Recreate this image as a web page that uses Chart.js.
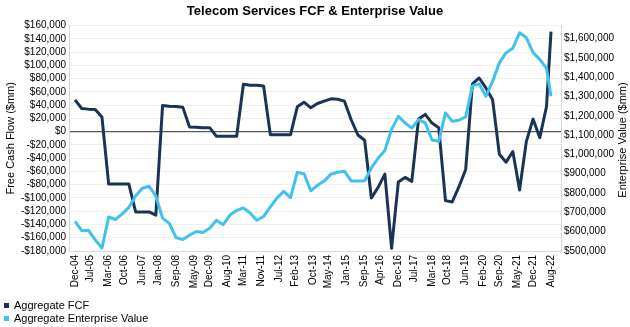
<!DOCTYPE html>
<html>
<head>
<meta charset="utf-8">
<script src="https://cdn.jsdelivr.net/npm/chart.js@4.4.1/dist/chart.umd.min.js"></script>
<style>
    body { margin: 0; background: #fff; font-family: "Liberation Sans", Arial, sans-serif; }
    #wrap { position: relative; width: 630px; height: 327px; }
    #legend { position: absolute; left: 4px; top: 299px; font-size: 11px; color: #000; }
    .item { height: 13px; line-height: 13px; display: flex; align-items: center; }
    .box { width: 5px; height: 5px; margin-right: 5px; }
    #evTitle {
        position: absolute; left: 542px; top: 133px; width: 160px; height: 14px;
        line-height: 14px; font-size: 11px; text-align: center; color: #000;
        transform: rotate(-90deg); transform-origin: 80px 7px; white-space: nowrap;
    }
</style>
</head>
<body>
<div id="wrap">
    <canvas id="chart" width="630" height="327"></canvas>
    <div id="evTitle">Enterprise Value ($mm)</div>
    <div id="legend"></div>
</div>
<script>
// 日付（四半期 + 最終点）
const dates = [
    'Dec-04', 'Mar-05', 'Jun-05', 'Sep-05', 'Dec-05', 'Mar-06', 'Jun-06', 'Sep-06',
    'Dec-06', 'Mar-07', 'Jun-07', 'Sep-07', 'Dec-07', 'Mar-08', 'Jun-08', 'Sep-08',
    'Dec-08', 'Mar-09', 'Jun-09', 'Sep-09', 'Dec-09', 'Mar-10', 'Jun-10', 'Sep-10',
    'Dec-10', 'Mar-11', 'Jun-11', 'Sep-11', 'Dec-11', 'Mar-12', 'Jun-12', 'Sep-12',
    'Dec-12', 'Mar-13', 'Jun-13', 'Sep-13', 'Dec-13', 'Mar-14', 'Jun-14', 'Sep-14',
    'Dec-14', 'Mar-15', 'Jun-15', 'Sep-15', 'Dec-15', 'Mar-16', 'Jun-16', 'Sep-16',
    'Dec-16', 'Mar-17', 'Jun-17', 'Sep-17', 'Dec-17', 'Mar-18', 'Jun-18', 'Sep-18',
    'Dec-18', 'Mar-19', 'Jun-19', 'Sep-19', 'Dec-19', 'Mar-20', 'Jun-20', 'Sep-20',
    'Dec-20', 'Mar-21', 'Jun-21', 'Sep-21', 'Dec-21', 'Mar-22', 'Jun-22', 'Aug-22'
];

// Aggregate FCF ($mm)
const fcfValues = [
    48000, 35000, 34000, 33500, 22000, -79000, -79000, -79000,
    -79000, -121000, -121000, -121000, -126000, 39500, 38500, 38000,
    37000, 7000, 6500, 6000, 6000, -7000, -7000, -7000,
    -7000, 71500, 70000, 70000, 69000, -4500, -4500, -4500,
    -4500, 37500, 44500, 36000, 42500, 46000, 49500, 49000,
    46000, 18000, -5000, -13000, -100000, -84000, -64000, -176000,
    -76000, -69000, -75000, 19000, 26000, 13000, 6000, -104000,
    -106000, -83000, -57000, 72000, 81000, 66000, 48000, -34000,
    -46000, -30000, -88000, -15000, 19000, -9000, 38000, 151000
];

// Aggregate Enterprise Value ($mm)
const evValues = [
    653000, 605000, 607000, 558000, 515000, 676000, 663000, 692000,
    726000, 785000, 825000, 835000, 785000, 670000, 643000, 570000,
    559000, 582000, 601000, 596000, 618000, 659000, 636000, 686000,
    710000, 723000, 697000, 659000, 679000, 728000, 775000, 809000,
    776000, 907000, 900000, 812000, 840000, 862000, 898000, 908000,
    913000, 863000, 862000, 864000, 930000, 980000, 1020000, 1130000,
    1197000, 1163000, 1137000, 1180000, 1163000, 1075000, 1068000, 1215000,
    1172000, 1177000, 1195000, 1355000, 1365000, 1301000, 1379000, 1474000,
    1527000, 1550000, 1630000, 1605000, 1527000, 1492000, 1445000, 1301000
];

// 横軸ラベル
const xTickLabels = [
    'Dec-04', 'Jul-05', 'Mar-06', 'Oct-06', 'Jun-07', 'Jan-08', 'Sep-08', 'May-09',
    'Dec-09', 'Aug-10', 'Mar-11', 'Nov-11', 'Jul-12', 'Feb-13', 'Oct-13', 'May-14',
    'Jan-15', 'Sep-15', 'Apr-16', 'Dec-16', 'Jul-17', 'Mar-18', 'Oct-18', 'Jun-19',
    'Feb-20', 'Sep-20', 'May-21', 'Dec-21', 'Aug-22'
];

// 縦軸目盛
const fcfTicks = [
    -180000, -160000, -140000, -120000, -100000, -80000, -60000, -40000, -20000,
    0, 20000, 40000, 60000, 80000, 100000, 120000, 140000, 160000
];
const evTicks = [
    500000, 600000, 700000, 800000, 900000, 1000000,
    1100000, 1200000, 1300000, 1400000, 1500000, 1600000
];

const seriesNames = ['Aggregate FCF', 'Aggregate Enterprise Value'];
const colors = ['#1b3456', '#40c2ef'];

// 'Mon-YY' -> Dec-04 からの月数
const MONTHS = ['Jan', 'Feb', 'Mar', 'Apr', 'May', 'Jun', 'Jul', 'Aug', 'Sep', 'Oct', 'Nov', 'Dec'];
function monthIndex(label) {
    const [m, y] = label.split('-');
    return (2000 + parseInt(y)) * 12 + MONTHS.indexOf(m) - (2004 * 12 + 11);
}

const tickMonths = xTickLabels.map(monthIndex);
const labelByMonth = {};
xTickLabels.forEach((l, i) => labelByMonth[tickMonths[i]] = l);

const money = v => (v < 0 ? '-' : '') + '$' + Math.abs(v).toLocaleString('en-US');

Chart.defaults.font.family = '"Liberation Sans", Arial, sans-serif';
Chart.defaults.color = '#000';

new Chart(document.getElementById('chart').getContext('2d'), {
    type: 'line',
    data: {
        datasets: [
            {
                label: seriesNames[0],
                data: dates.map((d, i) => ({ x: monthIndex(d), y: fcfValues[i] })),
                borderColor: colors[0],
                backgroundColor: colors[0],
                borderWidth: 3,
                pointRadius: 0,
                borderJoinStyle: 'round',
                yAxisID: 'y',
                order: 1
            },
            {
                label: seriesNames[1],
                data: dates.map((d, i) => ({ x: monthIndex(d), y: evValues[i] })),
                borderColor: colors[1],
                backgroundColor: colors[1],
                borderWidth: 3,
                pointRadius: 0,
                borderJoinStyle: 'round',
                yAxisID: 'y2',
                order: 0
            }
        ]
    },
    options: {
        responsive: false,
        animation: false,
        devicePixelRatio: 1,
        layout: { padding: 0 },
        plugins: {
            legend: { display: false },
            tooltip: { enabled: false },
            title: {
                display: true,
                text: 'Telecom Services FCF & Enterprise Value',
                font: { size: 13, weight: 'bold' },
                color: '#000',
                padding: { top: 4, bottom: 6 }
            }
        },
        scales: {
            x: {
                type: 'linear',
                min: -2.67,
                max: 216.45,
                afterBuildTicks: s => { s.ticks = tickMonths.map(v => ({ value: v })); },
                afterFit: s => { s.height = 76; },
                ticks: {
                    autoSkip: false,
                    maxRotation: 90,
                    minRotation: 90,
                    padding: 4,
                    font: { size: 10 },
                    callback: v => labelByMonth[v] || ''
                },
                grid: { display: false, drawTicks: false },
                border: { display: true, color: '#d9d9d9' }
            },
            y: {
                position: 'left',
                min: -180000,
                max: 160000,
                afterBuildTicks: s => { s.ticks = fcfTicks.map(v => ({ value: v })); },
                afterFit: s => { s.width = 69; },
                ticks: { autoSkip: false, font: { size: 10 }, padding: 3, callback: v => money(v) },
                grid: {
                    drawTicks: false,
                    color: c => c.tick && c.tick.value === 0 ? '#595959' : '#efefef',
                    lineWidth: c => c.tick && c.tick.value === 0 ? 1.3 : 1
                },
                border: { display: true, color: '#d9d9d9' },
                title: {
                    display: true,
                    text: 'Free Cash Flow ($mm)',
                    font: { size: 11 },
                    padding: { top: 4, bottom: 0 }
                }
            },
            y2: {
                position: 'right',
                min: 500000,
                max: 1667000,
                afterBuildTicks: s => { s.ticks = evTicks.map(v => ({ value: v })); },
                afterFit: s => { s.width = 69; },
                ticks: { autoSkip: false, font: { size: 10 }, padding: 3, callback: v => money(v) },
                grid: { drawOnChartArea: false, drawTicks: false },
                border: { display: true, color: '#d9d9d9' }
            }
        }
    }
});

// 凡例（縦並び）
document.getElementById('legend').innerHTML = seriesNames.map((n, i) => `
    <div class="item"><span class="box" style="background:${colors[i]}"></span>${n}</div>
`).join('');
</script>
</body>
</html>
